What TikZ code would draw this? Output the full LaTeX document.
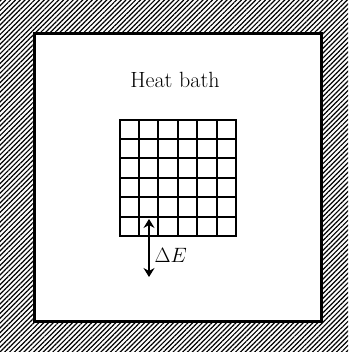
\documentclass[tikz,border=0pt]{standalone}
\usepackage{fontspec}
\usetikzlibrary{patterns.meta,arrows.meta}
\begin{document}
\begin{tikzpicture}[x=1pt,y=1pt,
  hatch/.style={pattern={Lines[angle=45,distance=3.4pt,line width=1.2pt]},pattern color=black},
  wall/.style={draw=black,line width=3pt,fill=white},
  gridline/.style={line width=2pt,line cap=rect},
  exch/.style={line width=2.2pt,{Stealth[length=9pt,width=11pt,inset=3pt]}-{Stealth[length=9pt,width=11pt,inset=3pt]}},
  lbl/.style={font=\fontsize{22}{26}\selectfont}]
\useasboundingbox (0,0) rectangle (348,352);
\fill[hatch] (0,0) rectangle (348,352);
\draw[wall] (34,30) rectangle (321,318);
\node[lbl,anchor=base] (hb) at (175,264) {Heat bath};
\foreach \i in {0,...,6}{
  \draw[gridline] (119.5+19.4*\i,116) -- (119.5+19.4*\i,232.4);
  \draw[gridline] (119.5,116+19.4*\i) -- (235.9,116+19.4*\i);
}
\coordinate (top) at (149,133);
\coordinate (bot) at (149,75);
\draw[exch] (top) -- (bot);
\node[lbl,anchor=west] (de) at (151,97) {$\Delta E$};
\end{tikzpicture}
\end{document}
